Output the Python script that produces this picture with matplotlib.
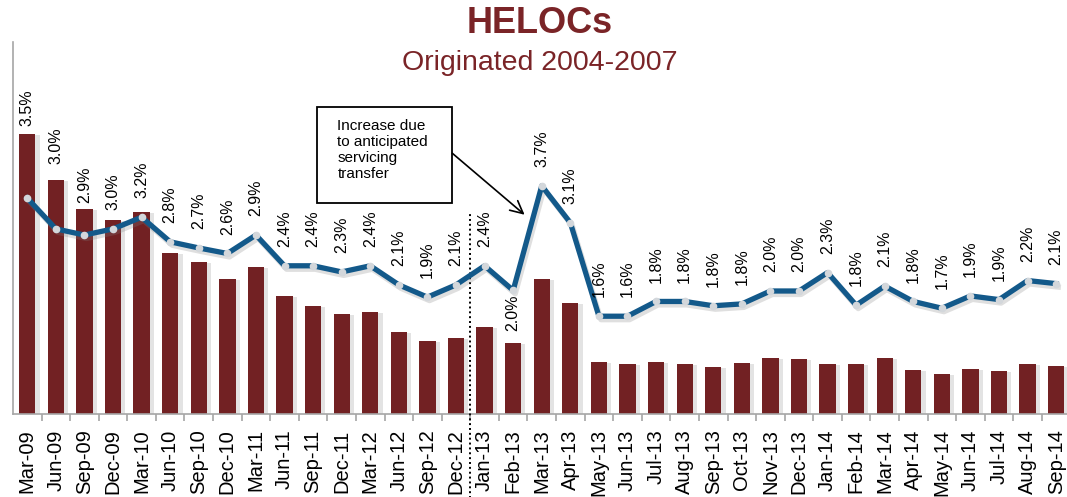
import matplotlib
matplotlib.use("Agg")
import matplotlib.pyplot as plt
import matplotlib.patheffects as pe
from matplotlib.patches import Rectangle
import matplotlib.transforms as mtransforms
import numpy as np

plt.rcParams['font.family'] = ['Liberation Sans', 'DejaVu Sans']

# data
months = ['Mar-09', 'Jun-09', 'Sep-09', 'Dec-09', 'Mar-10', 'Jun-10', 'Sep-10', 'Dec-10',
          'Mar-11', 'Jun-11', 'Sep-11', 'Dec-11', 'Mar-12', 'Jun-12', 'Sep-12', 'Dec-12',
          'Jan-13', 'Feb-13', 'Mar-13', 'Apr-13', 'May-13', 'Jun-13', 'Jul-13', 'Aug-13',
          'Sep-13', 'Oct-13', 'Nov-13', 'Dec-13', 'Jan-14', 'Feb-14', 'Mar-14', 'Apr-14',
          'May-14', 'Jun-14', 'Jul-14', 'Aug-14', 'Sep-14']

# line series (percent)
rate = [3.51, 3.01, 2.91, 3.01, 3.20, 2.80, 2.70, 2.61,
        2.91, 2.41, 2.41, 2.31, 2.41, 2.10, 1.90, 2.10,
        2.41, 2.01, 3.71, 3.11, 1.59, 1.59, 1.83, 1.83,
        1.76, 1.79, 2.00, 2.00, 2.30, 1.77, 2.08, 1.83,
        1.72, 1.92, 1.86, 2.17, 2.12]

# bar series (unlabelled, relative units)
volume = [2.80, 2.34, 2.05, 1.94, 2.02, 1.61, 1.52, 1.35,
          1.47, 1.18, 1.08, 1.00, 1.02, 0.82, 0.73, 0.76,
          0.87, 0.71, 1.35, 1.11, 0.52, 0.50, 0.52, 0.50,
          0.47, 0.51, 0.56, 0.55, 0.50, 0.50, 0.56, 0.44,
          0.40, 0.45, 0.43, 0.50, 0.48]

# label nudges (points above the marker), default 13.5
label_offset = {0: 52, 1: 47, 2: 23, 17: -3}

bar_color = '#722123'
line_color = '#13598A'
title_color = '#7A2427'

fig = plt.figure(figsize=(10.67, 4.97), dpi=100)
ax = fig.add_axes([13 / 1067, 83 / 497, 1057.5 / 1067, 372 / 497])
x = np.arange(len(months))

bars = ax.bar(x, volume, width=0.57, color=bar_color, zorder=2)
for b in bars:
    b.set_path_effects([pe.SimplePatchShadow(offset=(3, -1), shadow_rgbFace='gray', alpha=0.22),
                        pe.Normal()])
ax.set_xlim(-0.5, len(months) - 0.5)
ax.set_ylim(0, 3.72)

# line on its own scale
ax2 = ax.twinx()
ax2.set_ylim(0, 372 / 61.5)
ax2.axis('off')

for s in ['top', 'right']:
    ax.spines[s].set_visible(False)
for s in ['left', 'bottom']:
    ax.spines[s].set_color('#A6A6A6')
    ax.spines[s].set_linewidth(1.2)
ax.tick_params(axis='y', which='both', left=False, right=False, labelleft=False, labelright=False)
ax.set_xticks(x)
ax.set_xticklabels(months, rotation=90, fontsize=14.5)
ax.tick_params(axis='x', which='major', length=0, pad=11)
ax.set_xticks(x[:-1] + 0.5, minor=True)
ax.tick_params(axis='x', which='minor', length=5, color='#A6A6A6', width=1.2)

ax2.plot(x, rate, color=line_color, lw=3.8, solid_joinstyle='round', zorder=3,
         path_effects=[pe.SimpleLineShadow(offset=(1.5, -2.5), shadow_color='gray', alpha=0.25),
                       pe.Normal()])
ax2.plot(x, rate, 'o', color='#D3D7DB', markersize=4.5, zorder=4)

for i, v in enumerate(rate):
    off = label_offset.get(i, 13.5)
    ax2.annotate(f'{v:.1f}%', (i, v), xytext=(0, off), textcoords='offset points',
                 rotation=90, ha='center', va='bottom' if off > 0 else 'top',
                 fontsize=11.5, annotation_clip=False)

# dotted separator between Dec-12 and Jan-13
trans = mtransforms.blended_transform_factory(ax.transData, ax.transAxes)
ax.plot([15.5, 15.5], [-0.225, 0.539], transform=trans, color='black', ls=(0, (1, 1.5)),
        lw=1.4, clip_on=False, zorder=5)

# callout
ax2.add_patch(Rectangle((10.15, 3.43), 4.72, 1.56, facecolor='white', edgecolor='black',
                        lw=1.3, zorder=6))
ax2.text(10.85, 4.80, 'Increase due\nto anticipated\nservicing\ntransfer', fontsize=11,
         va='top', ha='left', linespacing=1.2, zorder=7)
ax2.annotate('', xy=(17.4, 3.24), xytext=(14.87, 4.24),
             arrowprops=dict(arrowstyle='->,head_length=0.9,head_width=0.45', color='black',
                             lw=1.2, shrinkA=0, shrinkB=0), zorder=7)

fig.text(0.506, 0.952, 'HELOCs', ha='center', va='center', fontsize=26,
         fontweight='bold', color=title_color)
fig.text(0.506, 0.873, 'Originated 2004-2007', ha='center', va='center', fontsize=20.5,
         color=title_color)

fig.savefig('out.png', dpi=100)
